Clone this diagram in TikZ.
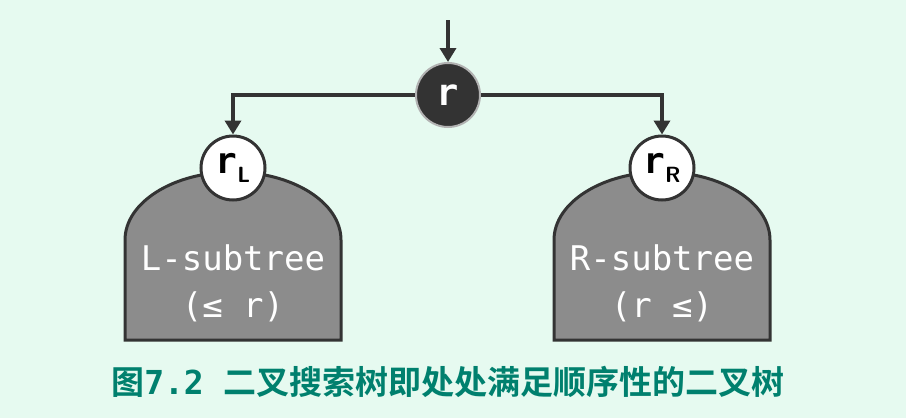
\documentclass[tikz,border=0pt]{standalone}
\usepackage{fontspec}
\setmainfont{DejaVu Sans}
\setmonofont{DejaVu Sans Mono}
\newfontfamily\cjk{Noto Sans CJK SC}[BoldFont={* Bold}]
\usetikzlibrary{arrows.meta}
\definecolor{bgmint}{HTML}{E6FAF0}
\definecolor{darkline}{HTML}{333333}
\definecolor{subgray}{HTML}{8C8C8C}
\definecolor{captiongreen}{HTML}{00806E}
\tikzset{
  x=1pt, y=1pt,
  conn/.style={draw=darkline, line width=3.5pt, -{Triangle[length=14pt,width=16pt]}},
  rootnode/.style={circle, fill=darkline, draw=gray!60, line width=2pt, minimum size=64pt, inner sep=0pt, text=white, font=\fontsize{37}{37}\bfseries\ttfamily},
  childnode/.style={circle, fill=white, draw=darkline, line width=3pt, minimum size=64pt, inner sep=0pt, font=\fontsize{36}{36}\bfseries\ttfamily},
  subshape/.style={fill=subgray, draw=darkline, line width=3pt},
  subtext/.style={text=white, font=\fontsize{34}{47}\selectfont\ttfamily, align=center},
  captext/.style={text=captiongreen, font=\fontsize{33}{33}\selectfont\bfseries}
}
\begin{document}
\begin{tikzpicture}
\fill[bgmint] (0,0) rectangle (906,-418);
\useasboundingbox (0,0) rectangle (906,-418);
% subtree shapes
\path[subshape] (125,-340) -- (125,-240) arc[start angle=180, end angle=0, x radius=108, y radius=68] -- (341,-340) -- cycle;
\path[subshape] (554,-340) -- (554,-240) arc[start angle=180, end angle=0, x radius=108, y radius=68] -- (770,-340) -- cycle;
% nodes
\coordinate (top) at (448,-20);
\node[rootnode] (root) at (448,-95) {r};
\node[childnode] (rl) at (233,-168) {r\raisebox{-9pt}{\fontsize{22}{22}\selectfont\sffamily\bfseries L}};
\node[childnode] (rr) at (662,-168) {r\raisebox{-9pt}{\fontsize{22}{22}\selectfont\sffamily\bfseries R}};
\node[subtext] (lt) at (233,-283) {L-subtree\\(≤ r)};
\node[subtext] (rt) at (662,-283) {R-subtree\\(r ≤)};
% connectors
\draw[conn] (top) -- (root);
\draw[conn] (root.west) -| (rl.north);
\draw[conn] (root.east) -| (rr.north);
% caption
\node[captext] (cap) at (448,-382) {{\cjk\bfseries 图}{\ttfamily\bfseries 7.2 }{\cjk\bfseries 二叉搜索树即处处满足顺序性的二叉树}};
\end{tikzpicture}
\end{document}
